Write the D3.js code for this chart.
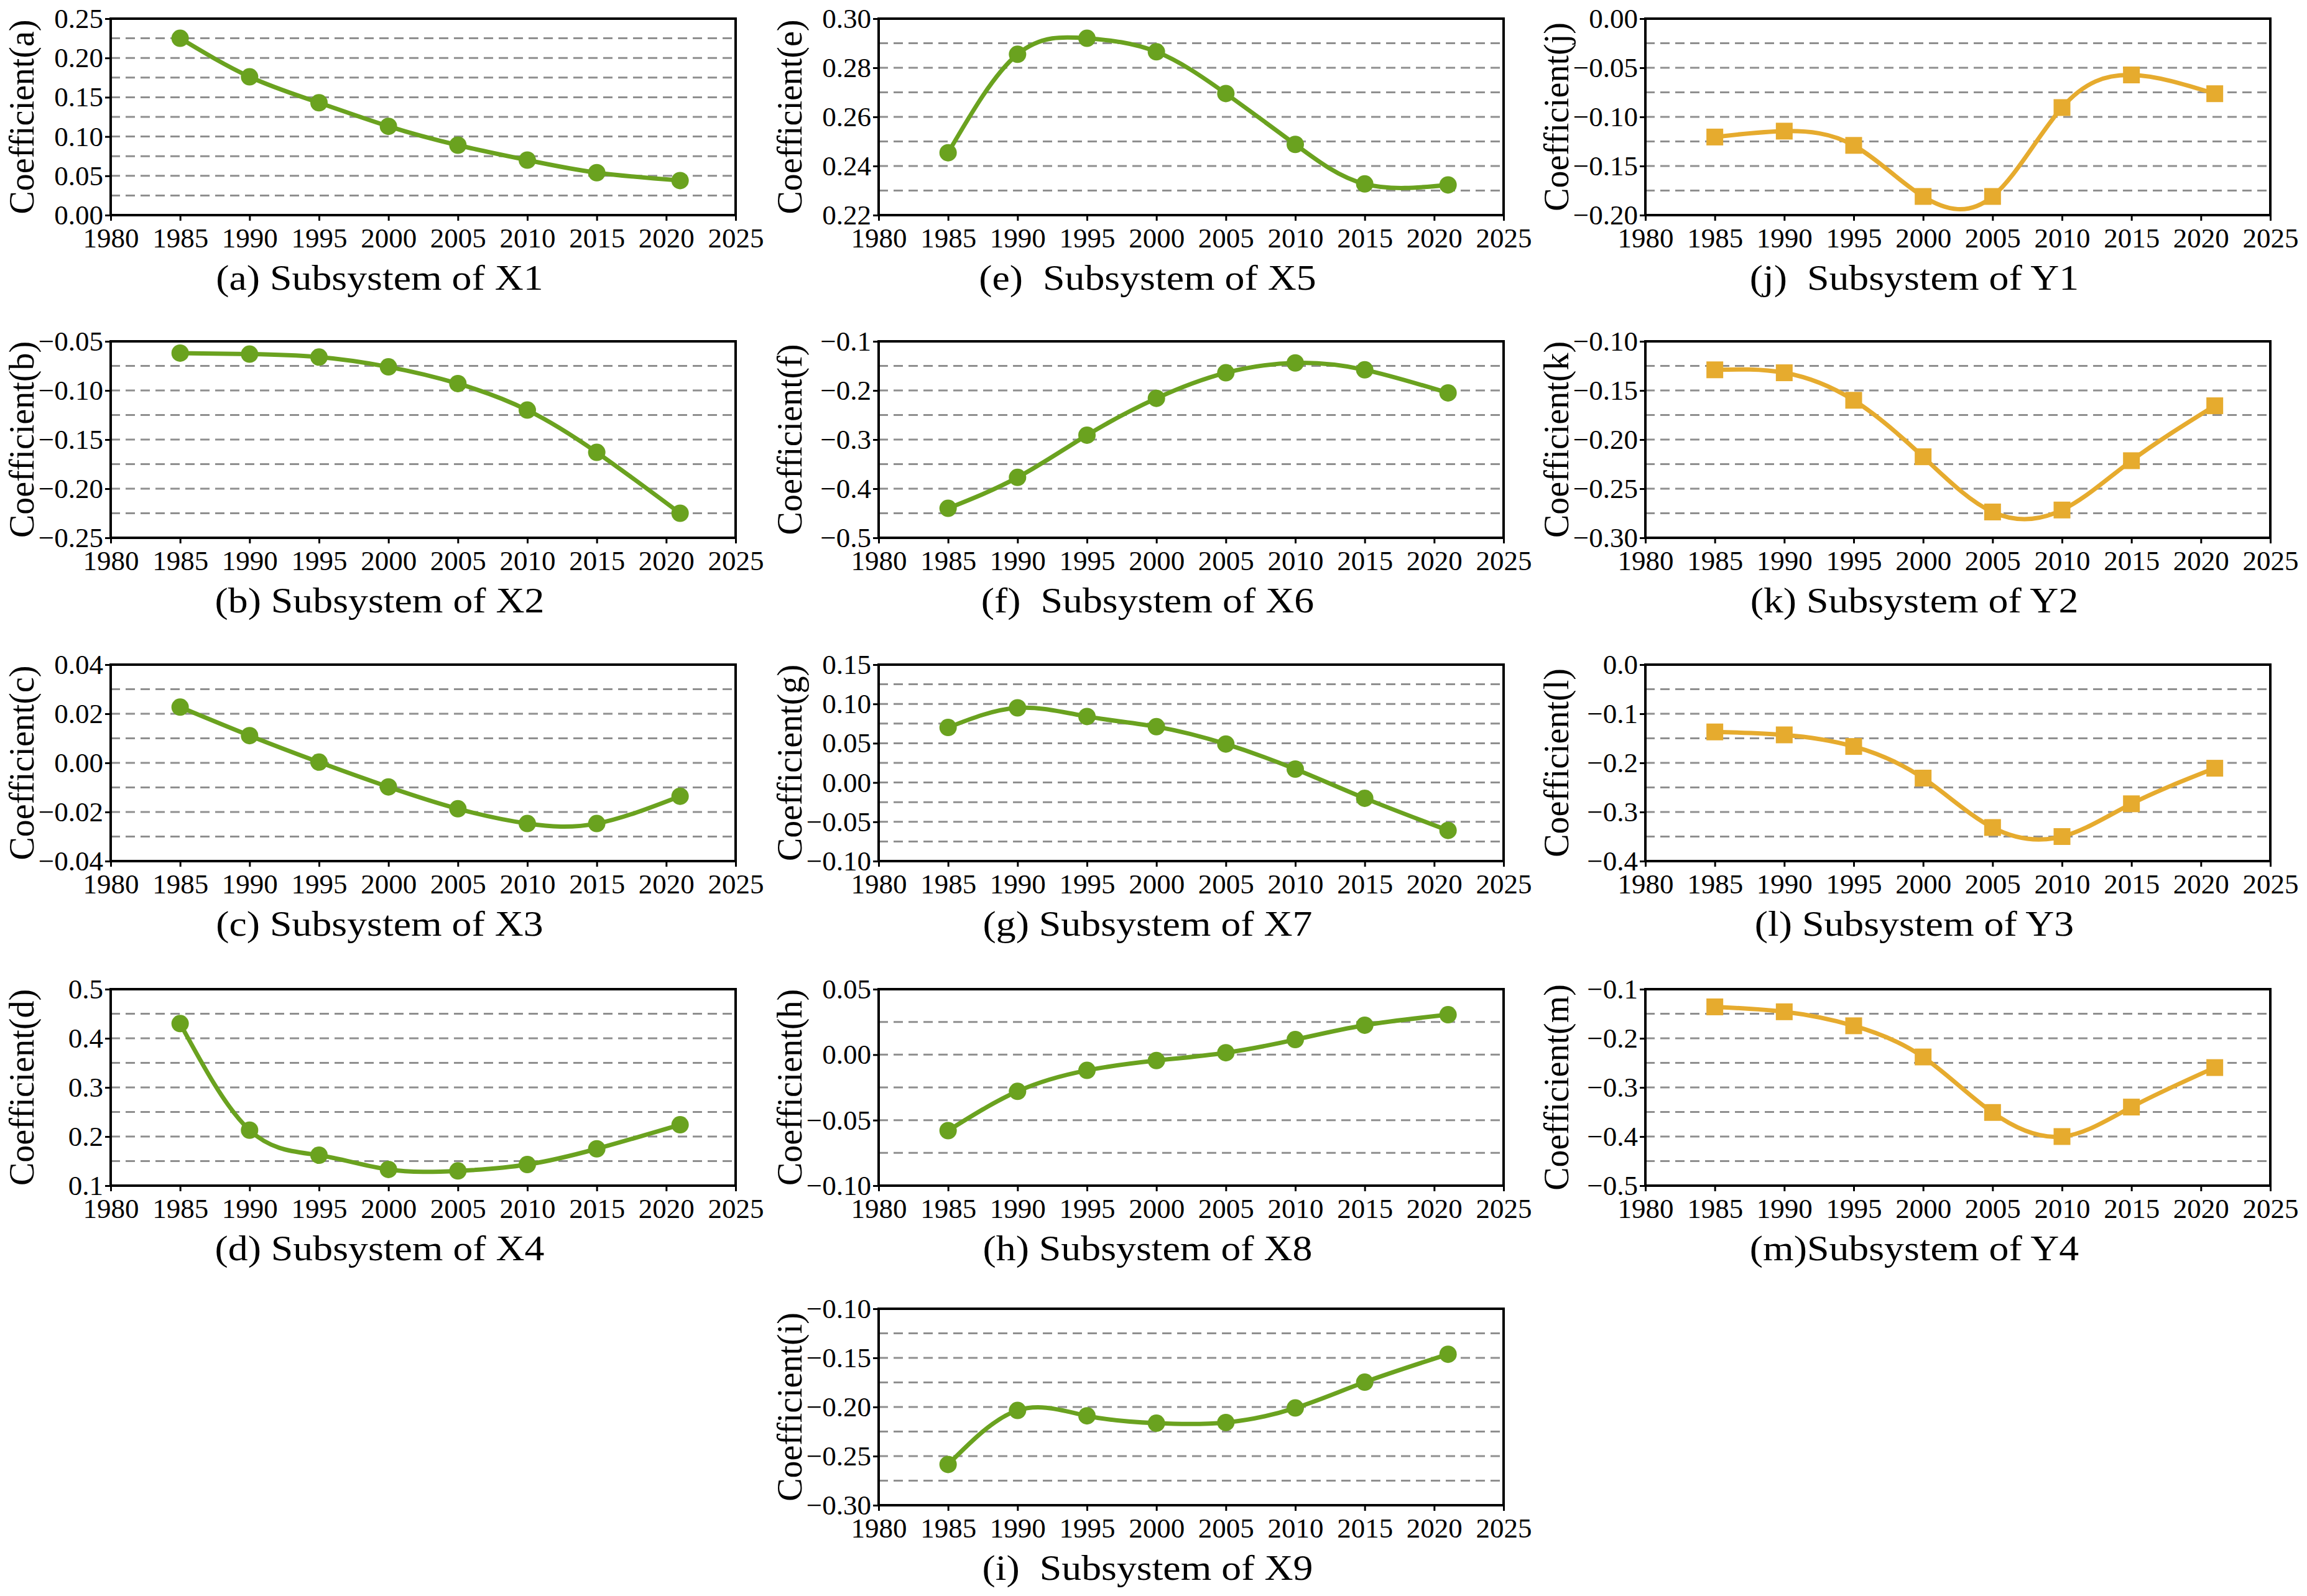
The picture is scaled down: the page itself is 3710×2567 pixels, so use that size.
<!DOCTYPE html>
<html>
<head>
<meta charset="utf-8">
<script src="https://cdn.jsdelivr.net/npm/d3@7"></script>
<style>
  html, body { margin: 0; padding: 0; background: #fff; }
  svg { display: block; }
</style>
</head>
<body>
<div id="chart"></div>
<script>
// years on the x axis (last point is 2021)
const years = [1985, 1990, 1995, 2000, 2005, 2010, 2015, 2021]
const xTicks = [1980, 1985, 1990, 1995, 2000, 2005, 2010, 2015, 2020, 2025]

// coefficients
const coefX1 = [0.225, 0.176, 0.143, 0.113, 0.089, 0.070, 0.054, 0.044]
const coefX2 = [-0.062, -0.063, -0.066, -0.076, -0.093, -0.120, -0.163, -0.225]
const coefX3 = [0.0227, 0.0111, 0.0003, -0.0098, -0.0187, -0.0247, -0.0247, -0.0136]
const coefX4 = [0.430, 0.213, 0.162, 0.133, 0.130, 0.143, 0.175, 0.224]
const coefX5 = [0.2454, 0.2855, 0.2920, 0.2865, 0.2695, 0.2488, 0.2327, 0.2323]
const coefX6 = [-0.440, -0.377, -0.291, -0.216, -0.164, -0.144, -0.158, -0.205]
const coefX7 = [0.070, 0.095, 0.084, 0.071, 0.049, 0.017, -0.020, -0.061]
const coefX8 = [-0.058, -0.028, -0.012, -0.0045, 0.0015, 0.0115, 0.0225, 0.0305]
const coefX9 = [-0.2585, -0.2035, -0.209, -0.2165, -0.2158, -0.201, -0.1747, -0.1463]
const coefY1 = [-0.1205, -0.1145, -0.129, -0.181, -0.181, -0.0905, -0.0573, -0.0764]
const coefY2 = [-0.129, -0.132, -0.160, -0.2175, -0.2737, -0.2717, -0.2215, -0.1656]
const coefY3 = [-0.137, -0.143, -0.1666, -0.231, -0.3316, -0.350, -0.2833, -0.2109]
const coefY4 = [-0.136, -0.146, -0.1745, -0.238, -0.351, -0.400, -0.340, -0.2596]

// y axis ranges: [min, max, step, decimals]
const yAxes = {
  a: [0, 0.25, 0.05, 2],
  b: [-0.25, -0.05, 0.05, 2],
  c: [-0.04, 0.04, 0.02, 2],
  d: [0.1, 0.5, 0.1, 1],
  e: [0.22, 0.30, 0.02, 2],
  f: [-0.5, -0.1, 0.1, 1],
  g: [-0.10, 0.15, 0.05, 2],
  h: [-0.10, 0.05, 0.05, 2],
  i: [-0.30, -0.10, 0.05, 2],
  j: [-0.20, 0, 0.05, 2],
  k: [-0.30, -0.10, 0.05, 2],
  l: [-0.4, 0, 0.1, 1],
  m: [-0.5, -0.1, 0.1, 1]
}

const titles = {
  a: "(a) Subsystem of X1", b: "(b) Subsystem of X2", c: "(c) Subsystem of X3",
  d: "(d) Subsystem of X4", e: "(e)  Subsystem of X5", f: "(f)  Subsystem of X6",
  g: "(g) Subsystem of X7", h: "(h) Subsystem of X8", i: "(i)  Subsystem of X9",
  j: "(j)  Subsystem of Y1", k: "(k) Subsystem of Y2", l: "(l) Subsystem of Y3",
  m: "(m)Subsystem of Y4"
}

const panels = [
  {key: "a", values: coefX1, col: 0, row: 0, type: "x"},
  {key: "b", values: coefX2, col: 0, row: 1, type: "x"},
  {key: "c", values: coefX3, col: 0, row: 2, type: "x"},
  {key: "d", values: coefX4, col: 0, row: 3, type: "x"},
  {key: "e", values: coefX5, col: 1, row: 0, type: "x"},
  {key: "f", values: coefX6, col: 1, row: 1, type: "x"},
  {key: "g", values: coefX7, col: 1, row: 2, type: "x"},
  {key: "h", values: coefX8, col: 1, row: 3, type: "x"},
  {key: "i", values: coefX9, col: 1, row: 4, type: "x"},
  {key: "j", values: coefY1, col: 2, row: 0, type: "y"},
  {key: "k", values: coefY2, col: 2, row: 1, type: "y"},
  {key: "l", values: coefY3, col: 2, row: 2, type: "y"},
  {key: "m", values: coefY4, col: 2, row: 3, type: "y"}
]

const W = 3710, H = 2567
const colLeft = [178, 1413, 2646]
const rowTop = [30, 549, 1069, 1591, 2105]
const plotW = 1005, plotH = 316
const green = "#6aa21f", orange = "#e6ab2e"
const font = "'Liberation Serif', 'Times New Roman', Times, serif"

function clean(v) {
  v = Math.round(v * 1e6) / 1e6
  return v + 0
}

const svg = d3.select("#chart").append("svg")
  .attr("width", W)
  .attr("height", H)
  .attr("viewBox", [0, 0, W, H])
  .style("font-family", font)

svg.append("rect").attr("width", W).attr("height", H).attr("fill", "#fff")

panels.forEach(p => {
  const [lo, hi, step, dec] = yAxes[p.key]
  const n = Math.round((hi - lo) / step)
  const yTicks = d3.range(n + 1).map(i => clean(lo + i * step))
  // dashed lines every half step, inside the frame
  const grid = d3.range(1, 2 * n).map(i => clean(lo + i * step / 2))

  const x = d3.scaleLinear().domain([1980, 2025]).range([0, plotW])
  const y = d3.scaleLinear().domain([lo, hi]).range([plotH, 0])

  const g = svg.append("g")
    .attr("transform", `translate(${colLeft[p.col]},${rowTop[p.row]})`)

  g.append("g")
    .selectAll("line")
    .data(grid)
    .join("line")
    .attr("x1", 0)
    .attr("x2", plotW)
    .attr("y1", d => y(d))
    .attr("y2", d => y(d))
    .attr("stroke", "#8f8f8f")
    .attr("stroke-width", 3)
    .attr("stroke-dasharray", "15,9")

  // axes
  const xAxis = g.append("g")
    .attr("transform", `translate(0,${plotH})`)
    .call(d3.axisBottom(x).tickValues(xTicks).tickFormat(d3.format("d"))
      .tickSize(9).tickSizeOuter(0).tickPadding(11))
  const yAxis = g.append("g")
    .call(d3.axisLeft(y).tickValues(yTicks).tickFormat(d3.format(`.${dec}f`))
      .tickSize(9).tickSizeOuter(0).tickPadding(3))

  ;[xAxis, yAxis].forEach(ax => {
    ax.select(".domain").remove()
    ax.selectAll(".tick line").attr("stroke", "#000").attr("stroke-width", 3)
    ax.selectAll(".tick text")
      .attr("fill", "#000")
      .style("font-family", font)
      .style("font-size", "45px")
  })

  // frame
  g.append("rect")
    .attr("width", plotW)
    .attr("height", plotH)
    .attr("fill", "none")
    .attr("stroke", "#000")
    .attr("stroke-width", 4)

  const color = p.type === "x" ? green : orange
  const pts = years.map((yr, i) => [yr, p.values[i]])

  const line = d3.line()
    .x(d => x(d[0]))
    .y(d => y(d[1]))
    .curve(d3.curveNatural)

  g.append("path")
    .datum(pts)
    .attr("d", line)
    .attr("fill", "none")
    .attr("stroke", color)
    .attr("stroke-width", 7)
    .attr("stroke-linejoin", "round")

  if (p.type === "x") {
    g.append("g")
      .selectAll("circle")
      .data(pts)
      .join("circle")
      .attr("cx", d => x(d[0]))
      .attr("cy", d => y(d[1]))
      .attr("r", 14)
      .attr("fill", color)
  } else {
    const s = 27
    g.append("g")
      .selectAll("rect")
      .data(pts)
      .join("rect")
      .attr("x", d => x(d[0]) - s / 2)
      .attr("y", d => y(d[1]) - s / 2)
      .attr("width", s)
      .attr("height", s)
      .attr("fill", color)
  }

  // y title
  g.append("text")
    .attr("transform", `translate(-124,${plotH / 2}) rotate(-90)`)
    .attr("text-anchor", "middle")
    .style("font-size", "56px")
    .attr("fill", "#000")
    .text(`Coefficient(${p.key})`)

  // caption under the panel, a bit wider than the font
  g.append("g")
    .attr("transform", `translate(${plotW / 2 - 70},${plotH + 120}) scale(1.12,1)`)
    .append("text")
    .attr("text-anchor", "middle")
    .style("font-size", "57px")
    .style("white-space", "pre")
    .attr("fill", "#000")
    .text(titles[p.key])
})
</script>
</body>
</html>
